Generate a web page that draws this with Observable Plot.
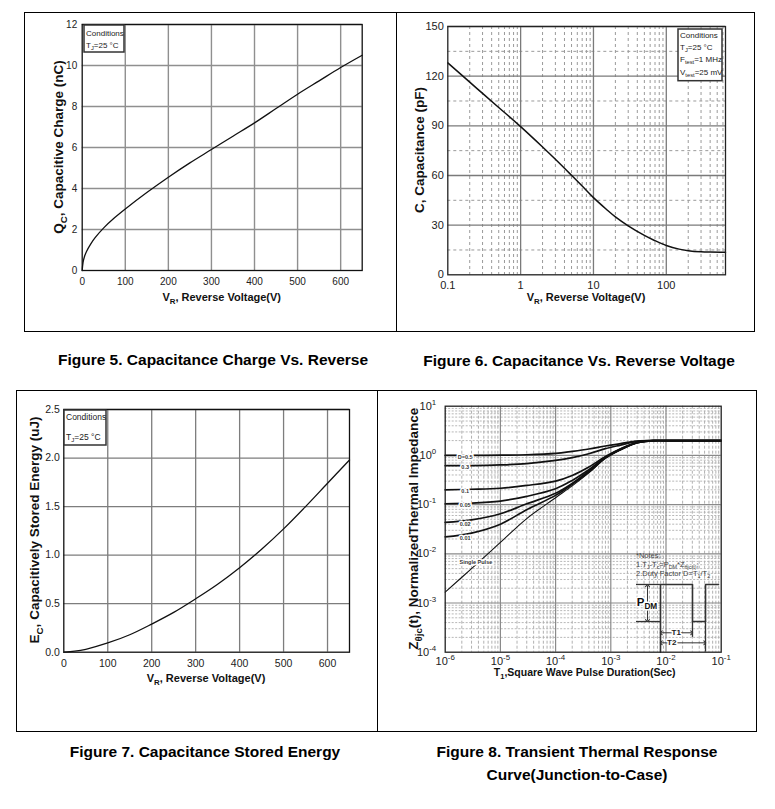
<!DOCTYPE html>
<html><head><meta charset="utf-8">
<script src="https://cdn.jsdelivr.net/npm/d3@7"></script>
<script src="https://cdn.jsdelivr.net/npm/@observablehq/plot@0.6"></script>
<style>
body{margin:0;background:#fff;font-family:Arial,"Liberation Sans",Helvetica,sans-serif;}
#page{position:relative;width:775px;height:809px;overflow:hidden;}
.box{position:absolute;border:1px solid #000;box-sizing:border-box;}
.chart{position:absolute;}
.cap{position:absolute;font-weight:bold;font-size:15.5px;line-height:23px;text-align:center;color:#000;}
</style></head>
<body><div id="page">
<div class="box" style="left:24px;top:12px;width:373px;height:320px"></div>
<div class="box" style="left:396px;top:12px;width:359px;height:320px"></div>
<div class="box" style="left:16px;top:390px;width:362px;height:342px"></div>
<div class="box" style="left:377px;top:390px;width:380px;height:342px"></div>
<div id="c5" class="chart" style="left:25px;top:13px;width:370px;height:315px"></div>
<div id="c6" class="chart" style="left:397px;top:13px;width:356px;height:315px"></div>
<div id="c7" class="chart" style="left:17px;top:391px;width:359px;height:338px"></div>
<div id="c8" class="chart" style="left:378px;top:391px;width:376px;height:338px"></div>
<div class="cap" style="left:13px;top:348px;width:400px">Figure 5. Capacitance Charge Vs. Reverse</div>
<div class="cap" style="left:379px;top:349px;width:400px">Figure 6. Capacitance Vs. Reverse Voltage</div>
<div class="cap" style="left:5px;top:740px;width:400px">Figure 7. Capacitance Stored Energy</div>
<div class="cap" style="left:377px;top:740px;width:400px">Figure 8. Transient Thermal Response<br>Curve(Junction-to-Case)</div>
</div>
<script>
// ---------------- Figure 5 : capacitive charge ----------------
const qcVoltage = [0, 2, 5, 10, 20, 30, 50, 75, 100, 150, 200, 250, 300, 350, 400, 450, 500, 550, 600, 650];
const qcCharge  = [0, 0.4, 0.66, 0.93, 1.3, 1.6, 2.08, 2.57, 3.0, 3.8, 4.55, 5.25, 5.9, 6.55, 7.2, 7.9, 8.6, 9.25, 9.9, 10.5];
const fig5XTicks = [0, 100, 200, 300, 400, 500, 600];
const fig5YTicks = [0, 2, 4, 6, 8, 10, 12];

// ---------------- Figure 6 : capacitance vs reverse voltage ----------------
const capVoltage = [0.1, 0.2, 0.3, 0.5, 1, 2, 3, 5, 7, 10, 15, 20, 30, 50, 70, 100, 150, 200, 300, 400, 650];
const capValue   = [128, 116.4, 109.6, 101.1, 89.5, 77.2, 69.8, 60.1, 53.6, 46.6, 39.6, 35.0, 29.6, 23.8, 20.6, 17.7, 15.5, 14.6, 13.9, 13.7, 13.6];
const fig6XTicks = [0.1, 1, 10, 100];
const fig6XTickLabels = ["0.1", "1", "10", "100"];
const fig6YTicks = [0, 30, 60, 90, 120, 150];
const fig6YMinor = [15, 45, 75, 105, 135];

// ---------------- Figure 7 : stored energy ----------------
const ecVoltage = [0, 25, 50, 100, 150, 200, 250, 300, 350, 400, 450, 500, 550, 600, 650];
const ecEnergy  = [0, 0.01, 0.03, 0.095, 0.18, 0.29, 0.41, 0.55, 0.7, 0.87, 1.06, 1.27, 1.5, 1.74, 1.98];
const fig7XTicks = [0, 100, 200, 300, 400, 500, 600];
const fig7YTicks = [0, 0.5, 1.0, 1.5, 2.0, 2.5];

// ---------------- Figure 8 : transient thermal impedance ----------------
const thermalT = [1e-6, 3e-6, 1e-5, 3e-5, 1e-4, 2e-4, 4e-4, 8e-4, 1.5e-3, 3e-3, 6e-3, 1e-2, 1e-1];
const zD05   = [1.0, 1.0, 1.01, 1.03, 1.1, 1.21, 1.35, 1.55, 1.73, 1.96, 2.0, 2.0, 2.0];
const zD03   = [0.62, 0.62, 0.64, 0.68, 0.79, 0.9, 1.08, 1.37, 1.62, 1.93, 2.0, 2.0, 2.0];
const zD01   = [0.2, 0.205, 0.215, 0.245, 0.3, 0.39, 0.58, 0.95, 1.37, 1.84, 2.0, 2.0, 2.0];
const zD005  = [0.104, 0.107, 0.118, 0.147, 0.21, 0.31, 0.51, 0.92, 1.35, 1.81, 2.0, 2.0, 2.0];
const zD002  = [0.0435, 0.049, 0.065, 0.104, 0.17, 0.27, 0.48, 0.9, 1.32, 1.81, 2.0, 2.0, 2.0];
const zD001  = [0.022, 0.0264, 0.04, 0.079, 0.154, 0.258, 0.458, 0.88, 1.3, 1.81, 2.0, 2.0, 2.0];
const zSingle = [0.00167, 0.005, 0.017, 0.052, 0.138, 0.24, 0.44, 0.87, 1.29, 1.8, 2.0, 2.0, 2.0];
const dutyLabels = ["D=0.5", "0.3", "0.1", "0.05", "0.02", "0.01"];
const fig8XTicks = [1e-6, 1e-5, 1e-4, 1e-3, 1e-2, 1e-1];
const fig8XExp = ["-6", "-5", "-4", "-3", "-2", "-1"];
const fig8YTicks = [1e-4, 1e-3, 1e-2, 1e-1, 1, 10];
const fig8YExp = ["-4", "-3", "-2", "-1", "0", "1"];
// inset pulse diagram (drawn in the chart's own data space)
const pulseWaveT = [7.94e-3, 7.94e-3, 0.0302, 0.0302, 0.052, 0.052, 0.0894];
const pulseWaveZ = [1e-4, 2.38e-3, 2.38e-3, 4.2e-4, 4.2e-4, 2.38e-3, 2.38e-3];

const FONT = "Arial, 'Liberation Sans', Helvetica, sans-serif";
const baseStyle = {fontFamily: FONT, background: "transparent", maxWidth: "none", overflow: "visible"};

function decadeMinors(fromExp, toExp, maxVal) {
  const out = [];
  for (let e = fromExp; e < toExp; e++)
    for (let k = 2; k <= 9; k++) {
      const v = +(k * Math.pow(10, e)).toPrecision(3);
      if (v <= maxVal) out.push(v);
    }
  return out;
}

function richText(sel, x, y, parts, o = {}) {
  const size = o.size || 11;
  const t = sel.append("text")
    .attr("transform", `translate(${x},${y})${o.rotate ? " rotate(-90)" : ""}`)
    .attr("y", (size * 0.35).toFixed(2))
    .attr("text-anchor", o.anchor || "middle")
    .attr("font-family", FONT).attr("font-size", size)
    .attr("font-weight", o.weight || "normal")
    .attr("fill", o.fill || "#111")
    .style("white-space", "pre");
  if (o.halo) t.attr("stroke", "white").attr("stroke-width", o.halo).attr("paint-order", "stroke").attr("stroke-linejoin", "round");
  let shift = 0;
  for (const p of parts) {
    const [s, kind] = Array.isArray(p) ? p : [p, ""];
    const target = kind === "sub" ? 0.28 : kind === "sup" ? -0.45 : 0;
    const ts = t.append("tspan").text(s);
    const d = (target - shift) * size;
    if (d) ts.attr("dy", d.toFixed(2));
    if (kind) ts.attr("font-size", (size * 0.72).toFixed(2));
    shift = target;
  }
  return t;
}

function condBox(svg, x, y, w, h, lines, size, lineYs) {
  const g = d3.select(svg).append("g");
  g.append("rect").attr("x", x).attr("y", y).attr("width", w).attr("height", h)
    .attr("fill", "white").attr("stroke", "#333").attr("stroke-width", 1.5);
  lines.forEach((parts, i) => richText(g, x + 2, lineYs[i], parts, {size, anchor: "start", fill: "#222"}));
}

function supTicks(svg, axis, exps, size) {
  d3.select(svg).selectAll(`g[aria-label="${axis}-axis tick label"] text`).each(function(_, i) {
    const t = d3.select(this);
    t.text("10");
    t.append("tspan").attr("font-size", (size * 0.72).toFixed(2)).attr("dy", (-size * 0.45).toFixed(2)).text(exps[i]);
  });
}

// ================= Figure 5 =================
{
  const rows = qcVoltage.map((v, i) => ({v, q: qcCharge[i]}));
  const svg = Plot.plot({
    width: 370, height: 315, marginLeft: 56.7, marginRight: 33.3, marginTop: 11, marginBottom: 58,
    style: baseStyle,
    x: {domain: [0, 650]}, y: {domain: [0, 12]},
    marks: [
      Plot.ruleX(fig5XTicks.slice(1), {stroke: "#8f8f8f", strokeWidth: 1.4}),
      Plot.ruleY(fig5YTicks.slice(1), {stroke: "#8f8f8f", strokeWidth: 1.4}),
      Plot.axisX({ticks: fig5XTicks, tickSize: 0, tickPadding: 7, fontSize: 10, fill: "#222", label: null}),
      Plot.axisY({ticks: fig5YTicks, tickSize: 0, tickPadding: 5, fontSize: 10, fill: "#222", label: null}),
      Plot.line(rows, {x: "v", y: "q", curve: "catmull-rom", stroke: "#111", strokeWidth: 1.3}),
      Plot.frame({stroke: "#111", strokeWidth: 1.3})
    ]
  });
  const s = d3.select(svg);
  richText(s, 196.7, 284, ["V", ["R", "sub"], ", Reverse Voltage(V)"], {size: 11, weight: "bold"});
  richText(s, 33, 134, ["Q", ["C", "sub"], ", Capacitive Charge (nC)"], {size: 13.5, weight: "bold", rotate: true});
  condBox(svg, 59, 12, 40, 27, [["Conditions"], ["T", ["J", "sub"], "=25 \u00B0C"]], 8, [20, 32]);
  document.getElementById("c5").append(svg);
}

// ================= Figure 6 =================
{
  const rows = capVoltage.map((v, i) => ({v, c: capValue[i]}));
  const xMinor = decadeMinors(-1, 3, 650);
  const svg = Plot.plot({
    width: 356, height: 315, marginLeft: 50.3, marginRight: 28, marginTop: 13, marginBottom: 53.7,
    style: baseStyle,
    x: {type: "log", domain: [0.1, 650]}, y: {domain: [0, 150]},
    marks: [
      Plot.ruleX(xMinor, {stroke: "#9a9a9a", strokeWidth: 1, strokeDasharray: "3,3"}),
      Plot.ruleY(fig6YMinor, {stroke: "#9a9a9a", strokeWidth: 1, strokeDasharray: "3,3"}),
      Plot.ruleX(fig6XTicks.slice(1), {stroke: "#7a7a7a", strokeWidth: 1.3}),
      Plot.ruleY(fig6YTicks.slice(1), {stroke: "#7a7a7a", strokeWidth: 1.3}),
      Plot.axisX({ticks: fig6XTicks, tickFormat: d => fig6XTickLabels[fig6XTicks.indexOf(d)], tickSize: 0, tickPadding: 6, fontSize: 11, fill: "#222", label: null}),
      Plot.axisY({ticks: fig6YTicks, tickSize: 0, tickPadding: 4, fontSize: 11, fill: "#222", label: null}),
      Plot.line(rows, {x: "v", y: "c", curve: "catmull-rom", stroke: "#111", strokeWidth: 1.5}),
      Plot.frame({stroke: "#222", strokeWidth: 1.3})
    ]
  });
  const s = d3.select(svg);
  richText(s, 189, 284.3, ["V", ["R", "sub"], ", Reverse Voltage(V)"], {size: 11, weight: "bold"});
  richText(s, 22, 137, ["C, Capacitance (pF)"], {size: 13.5, weight: "bold", rotate: true});
  condBox(svg, 281, 16, 44, 51.7, [
    ["Conditions"],
    ["T", ["J", "sub"], "=25 \u00B0C"],
    ["F", ["test", "sub"], "=1 MHz"],
    ["V", ["test", "sub"], "=25 mV"]
  ], 8, [22, 33.7, 46, 58.7]);
  document.getElementById("c6").append(svg);
}

// ================= Figure 7 =================
{
  const rows = ecVoltage.map((v, i) => ({v, e: ecEnergy[i]}));
  const svg = Plot.plot({
    width: 359, height: 338, marginLeft: 46.3, marginRight: 27, marginTop: 18, marginBottom: 77.3,
    style: baseStyle,
    x: {domain: [0, 650]}, y: {domain: [0, 2.5]},
    marks: [
      Plot.ruleX(fig7XTicks.slice(1), {stroke: "#7d7d7d", strokeWidth: 1.3}),
      Plot.ruleY(fig7YTicks.slice(1), {stroke: "#7d7d7d", strokeWidth: 1.3}),
      Plot.axisX({ticks: fig7XTicks, tickSize: 0, tickPadding: 7, fontSize: 10.5, fill: "#222", label: null}),
      Plot.axisY({ticks: fig7YTicks, tickFormat: d => d.toFixed(1), tickSize: 0, tickPadding: 4, fontSize: 10.5, fill: "#222", label: null}),
      Plot.line(rows, {x: "v", y: "e", curve: "catmull-rom", stroke: "#111", strokeWidth: 1.3}),
      Plot.frame({stroke: "#111", strokeWidth: 1.3})
    ]
  });
  const s = d3.select(svg);
  richText(s, 189, 286.7, ["V", ["R", "sub"], ", Reverse Voltage(V)"], {size: 11, weight: "bold"});
  richText(s, 17.3, 139, ["E", ["C", "sub"], ", Capacitively Stored Energy (uJ)"], {size: 13.5, weight: "bold", rotate: true});
  condBox(svg, 47, 19, 42, 35, [["Conditions"], ["T", ["J", "sub"], "=25 \u00B0C"]], 8.5, [25.7, 45.7]);
  document.getElementById("c7").append(svg);
}

// ================= Figure 8 =================
{
  const dSeries = [zD05, zD03, zD01, zD005, zD002, zD001].map((z, k) => ({label: dutyLabels[k], z}));
  const dRows = dSeries.flatMap(s => thermalT.map((t, i) => ({series: s.label, t, z: s.z[i]})));
  const spRows = thermalT.map((t, i) => ({t, z: zSingle[i]}));
  const labelT = 2.3e-6;
  const labelRows = dSeries.map(s => ({label: s.label, t: labelT, z: s.z[0]}));
  const waveRows = pulseWaveT.map((t, i) => ({t, z: pulseWaveZ[i]}));
  const xMinor = decadeMinors(-6, -1, 0.1);
  const yMinor = decadeMinors(-4, 1, 10);
  const svg = Plot.plot({
    width: 376, height: 338, marginLeft: 66.7, marginRight: 33.3, marginTop: 14.7, marginBottom: 77.3,
    style: baseStyle,
    x: {type: "log", domain: [1e-6, 1e-1]}, y: {type: "log", domain: [1e-4, 10]},
    marks: [
      Plot.ruleX(xMinor, {stroke: "#a8a8a8", strokeWidth: 0.9, strokeDasharray: "3,2"}),
      Plot.ruleY(yMinor, {stroke: "#b0b0b0", strokeWidth: 0.9, strokeDasharray: "2,1.5"}),
      Plot.ruleX(fig8XTicks.slice(1, -1), {stroke: "#8a8a8a", strokeWidth: 1.2}),
      Plot.ruleY(fig8YTicks.slice(1, -1), {stroke: "#8a8a8a", strokeWidth: 1.2}),
      Plot.axisX({ticks: fig8XTicks, tickFormat: () => "10", tickSize: 0, tickPadding: 5, fontSize: 11, fill: "#222", label: null}),
      Plot.axisY({ticks: fig8YTicks, tickFormat: () => "10", tickSize: 0, tickPadding: 9, fontSize: 11, fill: "#222", label: null}),
      Plot.line(dRows, {x: "t", y: "z", z: "series", curve: "catmull-rom", stroke: "#111", strokeWidth: 1.7}),
      Plot.line(spRows, {x: "t", y: "z", curve: "catmull-rom", stroke: "#111", strokeWidth: 1.1}),
      Plot.text(labelRows, {x: "t", y: "z", text: "label", dy: 1.5, fontSize: 5.5, fontWeight: "bold", fill: "#333", stroke: "white", strokeWidth: 3}),
      Plot.text([{t: 3.6e-6, z: 6.7e-3}], {x: "t", y: "z", text: () => "Single Pulse", fontSize: 5.5, fontWeight: "bold", fill: "#333", stroke: "white", strokeWidth: 3}),
      // inset pulse diagram
      Plot.line(waveRows, {x: "t", y: "z", stroke: "#333", strokeWidth: 1.6}),
      Plot.ruleY([2.38e-3, 4.2e-4], {x1: 2.92e-3, x2: 7.94e-3, stroke: "#333", strokeWidth: 1.3}),
      Plot.ruleX([{t: 0.052, a: 1e-4, b: 4.2e-4}, {t: 0.0302, a: 2.0e-4, b: 4.2e-4}], {x: "t", y1: "a", y2: "b", stroke: "#333", strokeWidth: 1.3}),
      Plot.link([
        {x1: 4.62e-3, x2: 4.62e-3, y1: 4.4e-4, y2: 2.25e-3},
        {x1: 8.2e-3, x2: 0.0292, y1: 2.48e-4, y2: 2.48e-4},
        {x1: 8.2e-3, x2: 0.0505, y1: 1.55e-4, y2: 1.55e-4}
      ], {x1: "x1", y1: "y1", x2: "x2", y2: "y2", stroke: "#333", strokeWidth: 1, markerStart: "arrow-reverse", markerEnd: "arrow"}),
      Plot.text([{t: 0.0153, z: 2.48e-4, s: "T1"}, {t: 0.0127, z: 1.55e-4, s: "T2"}], {x: "t", y: "z", text: "s", fontSize: 8, fontWeight: "bold", fill: "#222", stroke: "white", strokeWidth: 3}),
      Plot.frame({stroke: "#222", strokeWidth: 1.3})
    ]
  });
  supTicks(svg, "x", fig8XExp, 11);
  supTicks(svg, "y", fig8YExp, 11);
  const s = d3.select(svg);
  const X = svg.scale("x"), Y = svg.scale("y");
  richText(s, X.apply(4.62e-3), Y.apply(1.04e-3), ["P", ["DM", "sub"]], {size: 11.5, weight: "bold", halo: 3});
  const nx = X.apply(2.92e-3);
  richText(s, nx, Y.apply(Math.pow(10, -2.035)), ["*Notes:"], {size: 7.5, anchor: "start", fill: "#444"});
  richText(s, nx, Y.apply(Math.pow(10, -2.218)), ["1.T", ["J", "sub"], "-T", ["c", "sub"], "=P", ["DM", "sub"], "*Z", ["\u03B8jc(t)", "sub"], ";"], {size: 7.5, anchor: "start", fill: "#444"});
  richText(s, nx, Y.apply(Math.pow(10, -2.401)), ["2.Duty Factor D=T", ["1", "sub"], "/T", ["2", "sub"]], {size: 7.5, anchor: "start", fill: "#444"});
  richText(s, 206.7, 281, ["T", ["1", "sub"], ",Square Wave Pulse Duration(Sec)"], {size: 10.5, weight: "bold"});
  richText(s, 35, 137.7, ["Z", ["\u03B8jc", "sub"], "(t), NormalizedThermal Impedance"], {size: 13.5, weight: "bold", rotate: true});
  document.getElementById("c8").append(svg);
}
</script>
</body></html>
